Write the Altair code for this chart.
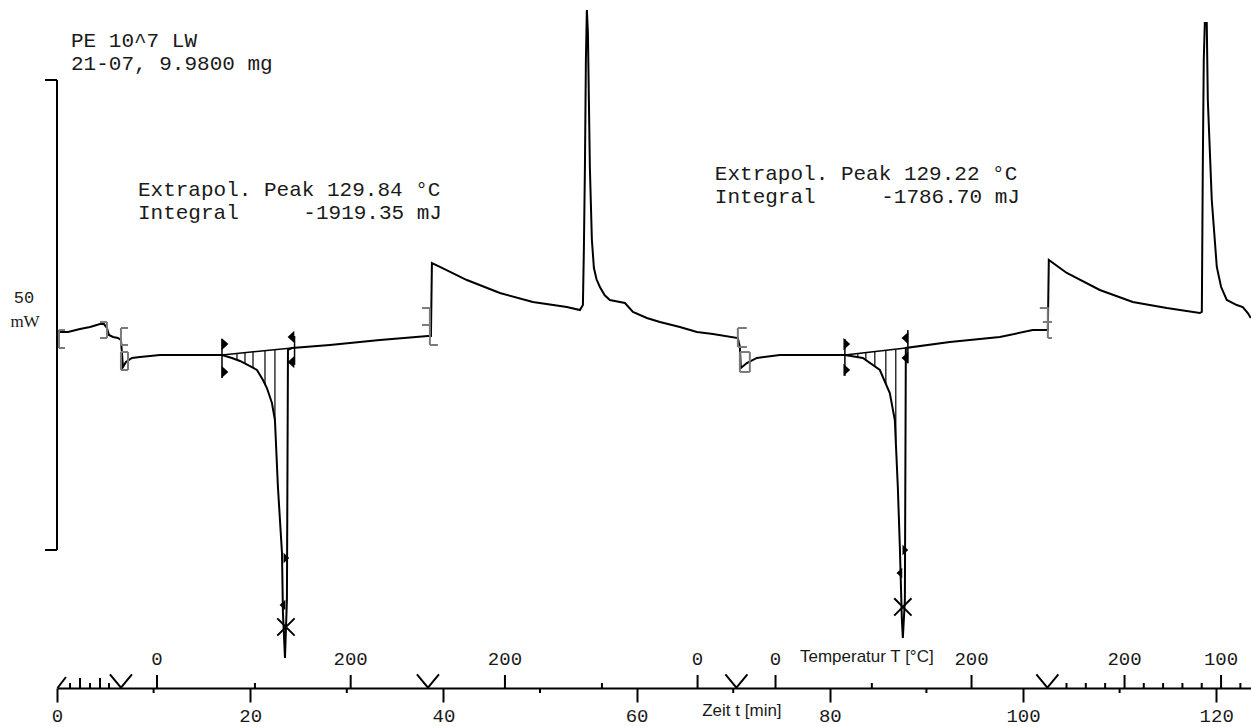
import altair as alt
import pandas as pd

# ---------------- data (time in min, heat flow in mW; scale bar 0..50 mW) ----------------
time_min = [0.00, 0.31, 1.14, 2.38, 3.42, 4.45, 4.86, 5.17, 5.38, 5.80, 6.31, 6.62, 6.83, 7.14, 7.76,
            8.59, 10.66, 13.77, 17.08, 18.11, 18.94, 19.98, 20.70, 21.32, 21.73, 22.25, 22.56, 22.87,
            23.29, 23.39, 23.60, 23.80, 23.91, 24.32, 28.25, 33.43, 38.40, 38.71, 38.81, 39.64, 42.43,
            45.85, 49.26, 52.78, 54.13, 54.44, 54.54, 54.65, 54.75, 54.85, 54.96, 55.06, 55.16, 55.37,
            55.58, 55.85, 56.20, 56.70, 57.23, 58.27, 58.79, 59.62, 61.06, 62.41, 64.48, 66.24, 67.90,
            70.48, 70.69, 70.79, 71.41, 72.45, 74.83, 81.56, 83.42, 85.18, 86.21, 86.73, 87.04, 87.25,
            87.46, 87.56, 87.77, 87.87, 92.42, 97.60, 101.01, 102.57, 102.67, 104.53, 107.95, 111.36,
            114.88, 118.30, 118.51, 118.61, 118.71, 118.82, 119.02, 119.13, 119.54, 120.06, 120.50,
            121.09, 122.13, 122.75, 123.27, 123.58]
heat_flow_mw = [23.40, 23.19, 23.19, 23.51, 23.72, 24.04, 24.04, 23.62, 22.87, 22.66, 22.55, 22.34,
                19.47, 20.00, 20.43, 20.53, 20.74, 20.74, 20.74, 20.43, 20.11, 19.57, 19.15, 18.09,
                17.23, 15.64, 13.83, 6.70, -0.32, -6.70, -11.49, -5.32, 21.28, 21.49, 21.81, 22.34,
                22.77, 22.77, 30.53, 30.11, 28.72, 27.34, 26.38, 25.85, 25.53, 26.06, 31.91, 40.74,
                52.13, 57.45, 55.00, 47.87, 40.74, 32.98, 30.00, 28.80, 27.98, 27.10, 26.60, 26.38,
                26.28, 25.32, 24.68, 24.26, 23.72, 23.19, 22.98, 22.55, 21.60, 19.36, 19.89, 20.43,
                20.74, 20.74, 20.43, 19.15, 16.70, 13.83, 6.70, 0.32, -7.45, -9.36, -5.32, 21.49,
                22.13, 22.66, 23.40, 23.40, 30.85, 29.47, 27.66, 26.38, 25.74, 25.21, 25.32, 40.74,
                52.13, 56.06, 56.06, 47.87, 37.23, 30.11, 28.00, 26.60, 26.06, 25.85, 25.21, 24.68]

# integration baselines
base_t1 = [17.08, 81.56]
base_v1 = [20.74, 20.74]
base_t2 = [24.32, 87.87]
base_v2 = [21.49, 21.49]

# hatching of the integrated areas
hatch_t = [18.63, 19.46, 20.29, 21.53, 22.56, 82.90, 83.73, 84.66, 85.80, 86.83]
hatch_top = [20.96, 21.02, 21.12, 21.22, 21.33, 20.87, 20.96, 21.06, 21.17, 21.28]
hatch_bottom = [20.23, 19.84, 19.39, 17.66, 13.83, 20.52, 20.20, 19.53, 17.67, 11.50]

# evaluation limit markers
tri_right_t = [17.39, 17.39, 81.76, 81.76]
tri_right_v = [21.91, 18.94, 21.91, 19.15]
tri_left_t = [24.22, 24.22, 87.77, 87.77]
tri_left_v = [22.66, 20.00, 22.55, 20.43]
limit_line_t = [17.08, 24.59, 81.56, 88.08]
limit_line_v1 = [22.45, 22.77, 22.45, 23.40]
limit_line_v2 = [18.30, 19.70, 18.50, 19.90]
small_right_t = [23.75, 87.82]
small_right_v = [-0.85, 0.00]
small_left_t = [23.34, 87.20]
small_left_v = [-5.85, -2.45]
peak_x_t = [23.70, 87.56]
peak_x_v = [-8.19, -6.06]

# grey step-evaluation brackets (segments)
br_t1 = [0.21, 0.21, 0.21, 5.17, 4.45, 4.45, 6.62, 6.62, 6.62, 6.62, 6.62, 6.62, 7.35,
         38.60, 37.78, 37.78, 38.60, 70.48, 70.48, 70.48, 70.69, 70.69, 70.69, 71.72,
         102.57, 101.74, 102.05, 102.57]
br_v1 = [23.40, 21.49, 23.40, 24.26, 24.26, 22.55, 23.62, 23.62, 21.81, 21.06, 21.06, 19.15, 21.06,
         25.74, 25.74, 23.94, 21.81, 23.62, 23.62, 21.60, 21.06, 21.06, 18.94, 21.06,
         25.85, 25.74, 24.26, 22.55]
br_t2 = [0.21, 0.83, 0.83, 5.17, 5.17, 5.17, 6.62, 7.35, 7.35, 6.62, 7.35, 7.35, 7.35,
         38.60, 38.60, 38.60, 39.43, 70.48, 71.41, 71.41, 70.69, 71.72, 71.72, 71.72,
         102.57, 102.57, 103.00, 103.00]
br_v2 = [21.49, 21.49, 23.40, 22.55, 24.26, 22.55, 21.81, 23.62, 21.81, 19.15, 21.06, 19.15, 19.15,
         21.81, 25.74, 23.94, 21.81, 21.60, 23.62, 21.60, 18.94, 21.06, 18.94, 18.94,
         22.55, 25.74, 24.26, 22.55]

# scale bar (mW)
bar_low, bar_high = 0.0, 50.0
bar_arm_t = -1.24

# time axis
time_ticks = [0, 20, 40, 60, 80, 100, 120]
time_minor = [10, 30, 50, 70, 90, 110]

# temperature axis (positions in minutes)
temp_major_t = [10.35, 30.40, 46.37, 66.31, 74.38, 94.67, 110.51, 120.50]
temp_major_lbl = ["0", "200", "200", "0", "0", "200", "200", "100"]
temp_minor_t = [20.49, 56.41, 84.35, 104.50, 106.50, 108.50, 112.50, 114.50, 116.50, 118.50,
                122.50, 1.35, 3.42, 5.38]
temp_mid_t = [2.38, 4.45]
segment_end_t = [6.62, 38.40, 70.33, 102.52]

# texts
title_lines = ["PE 10^7 LW", "21-07, 9.9800 mg"]
title_t = [1.45, 1.45]
title_v = [53.50, 51.10]
peak_lines = ["Extrapol. Peak 129.84 °C", "Extrapol. Peak 129.22 °C"]
peak_t = [8.38, 68.10]
peak_v = [37.65, 39.35]
integral_label = ["Integral", "Integral"]
integral_v = [35.20, 36.95]
integral_values = ["-1919.35 mJ", "-1786.70 mJ"]
integral_right_t = [39.85, 99.67]

# ---------------- chart ----------------
xs = alt.Scale(domain=[0, 123.6], nice=False, zero=False)
ysc = alt.Scale(domain=[-14.68, 58.51], nice=False, zero=False)
MONO = "Liberation Mono"
INK = "#1a1a1a"

x_axis = alt.Axis(
    values=time_ticks, format="d", title=None, grid=False, labelFlush=False,
    domainColor="black", domainWidth=2, tickColor="black", tickWidth=2, tickSize=14,
    labelFont=MONO, labelFontSize=19, labelColor=INK, labelPadding=4)


def qx(f):
    return alt.X(f, type="quantitative", scale=xs, axis=x_axis)


def qy(f):
    return alt.Y(f, type="quantitative", scale=ysc, axis=None)


curve_df = pd.DataFrame({"t": time_min, "v": heat_flow_mw, "i": range(len(time_min))})
curve = alt.Chart(curve_df).mark_line(color="black", strokeWidth=2).encode(
    x=qx("t"), y=qy("v"), order="i:Q")

base_df = pd.DataFrame({"t": base_t1, "v": base_v1, "t2": base_t2, "v2": base_v2})
baselines = alt.Chart(base_df).mark_rule(color="black", strokeWidth=1.5).encode(
    x=qx("t"), y=qy("v"), x2="t2", y2="v2")

hatch_df = pd.DataFrame({"t": hatch_t, "v": hatch_top, "b": hatch_bottom})
hatch = alt.Chart(hatch_df).mark_rule(color="black", strokeWidth=1.2).encode(
    x=qx("t"), y=qy("v"), y2="b")

lim_df = pd.DataFrame({"t": limit_line_t, "v": limit_line_v1, "b": limit_line_v2})
lim = alt.Chart(lim_df).mark_rule(color="black", strokeWidth=1.5).encode(
    x=qx("t"), y=qy("v"), y2="b")

TRI_R = "M-0.55,-1L0.55,0L-0.55,1Z"
TRI_L = "M0.55,-1L-0.55,0L0.55,1Z"
tri_r = alt.Chart(pd.DataFrame({"t": tri_right_t, "v": tri_right_v})).mark_point(
    shape=TRI_R, filled=True, color="black", opacity=1, size=150).encode(x=qx("t"), y=qy("v"))
tri_l = alt.Chart(pd.DataFrame({"t": tri_left_t, "v": tri_left_v})).mark_point(
    shape=TRI_L, filled=True, color="black", opacity=1, size=150).encode(x=qx("t"), y=qy("v"))
sm_r = alt.Chart(pd.DataFrame({"t": small_right_t, "v": small_right_v})).mark_point(
    shape=TRI_R, filled=True, color="black", opacity=1, size=110).encode(x=qx("t"), y=qy("v"))
sm_l = alt.Chart(pd.DataFrame({"t": small_left_t, "v": small_left_v})).mark_point(
    shape=TRI_L, filled=True, color="black", opacity=1, size=110).encode(x=qx("t"), y=qy("v"))
px = alt.Chart(pd.DataFrame({"t": peak_x_t, "v": peak_x_v})).mark_point(
    shape="M-1,-1L1,1M-1,1L1,-1", filled=False, color="black", opacity=1, size=300,
    strokeWidth=2).encode(x=qx("t"), y=qy("v"))

br_df = pd.DataFrame({"t": br_t1, "v": br_v1, "t2": br_t2, "v2": br_v2})
brackets = alt.Chart(br_df).mark_rule(color="#7a7a7a", strokeWidth=2).encode(
    x=qx("t"), y=qy("v"), x2="t2", y2="v2")

bar_df = pd.DataFrame({
    "t": [0, bar_arm_t, bar_arm_t],
    "v": [bar_low, bar_high, bar_low],
    "t2": [0, 0, 0],
    "v2": [bar_high, bar_high, bar_low],
})
bar = alt.Chart(bar_df).mark_rule(color="black", strokeWidth=2).encode(
    x=qx("t"), y=qy("v"), x2="t2", y2="v2")
bar_lbl = alt.Chart(pd.DataFrame({"t": [-3.42], "v": [26.86], "s": ["50"]})).mark_text(
    font=MONO, fontSize=17, color=INK, align="center", baseline="middle").encode(
    x=qx("t"), y=qy("v"), text="s:N")
bar_unit = alt.Chart(pd.DataFrame({"t": [-3.31], "v": [24.26], "s": ["mW"]})).mark_text(
    font="Liberation Serif", fontSize=17, color=INK, align="center", baseline="middle").encode(
    x=qx("t"), y=qy("v"), text="s:N")

# axis decorations (pixel offsets relative to plot bottom = 688)
AX = 688
t_minor = alt.Chart(pd.DataFrame({"t": time_minor})).mark_rule(color="black", strokeWidth=2).encode(
    x=qx("t"), y=alt.value(AX), y2=alt.value(AX + 5))
tp_major = alt.Chart(pd.DataFrame({"t": temp_major_t})).mark_rule(color="black", strokeWidth=2).encode(
    x=qx("t"), y=alt.value(AX), y2=alt.value(AX - 13))
tp_mid = alt.Chart(pd.DataFrame({"t": temp_mid_t})).mark_rule(color="black", strokeWidth=2).encode(
    x=qx("t"), y=alt.value(AX), y2=alt.value(AX - 10))
tp_minor = alt.Chart(pd.DataFrame({"t": temp_minor_t})).mark_rule(color="black", strokeWidth=2).encode(
    x=qx("t"), y=alt.value(AX), y2=alt.value(AX - 5))
slant = alt.Chart(pd.DataFrame({"t": [0.05], "t2": [0.93]})).mark_rule(color="black", strokeWidth=2).encode(
    x=qx("t"), x2="t2", y=alt.value(AX), y2=alt.value(AX - 11))
seg_v = alt.Chart(pd.DataFrame({"t": segment_end_t})).mark_point(
    shape="M-1,-0.6L0,0.6L1,-0.6", filled=False, color="black", opacity=1, size=484,
    strokeWidth=2).encode(x=qx("t"), y=alt.value(AX - 7))
tp_lbl = alt.Chart(pd.DataFrame({"t": temp_major_t, "s": temp_major_lbl})).mark_text(
    font=MONO, fontSize=19, color=INK, align="center", baseline="middle").encode(
    x=qx("t"), y=alt.value(AX - 29), text="s:N")
tp_title = alt.Chart(pd.DataFrame({"t": [83.83], "s": ["Temperatur T [°C]"]})).mark_text(
    font="Liberation Sans", fontSize=17, color=INK, align="center", baseline="middle").encode(
    x=qx("t"), y=alt.value(AX - 31), text="s:N")
time_title = alt.Chart(pd.DataFrame({"t": [70.9], "s": ["Zeit t [min]"]})).mark_text(
    font="Liberation Sans", fontSize=17, color=INK, align="center", baseline="middle").encode(
    x=qx("t"), y=alt.value(AX + 23), text="s:N")

# annotations
title_txt = alt.Chart(pd.DataFrame({"t": title_t, "v": title_v, "s": title_lines})).mark_text(
    font=MONO, fontSize=21, color=INK, align="left", baseline="alphabetic").encode(
    x=qx("t"), y=qy("v"), text="s:N")
peak_txt = alt.Chart(pd.DataFrame({"t": peak_t, "v": peak_v, "s": peak_lines})).mark_text(
    font=MONO, fontSize=21, color=INK, align="left", baseline="alphabetic").encode(
    x=qx("t"), y=qy("v"), text="s:N")
int_lbl = alt.Chart(pd.DataFrame({"t": peak_t, "v": integral_v, "s": integral_label})).mark_text(
    font=MONO, fontSize=21, color=INK, align="left", baseline="alphabetic").encode(
    x=qx("t"), y=qy("v"), text="s:N")
int_val = alt.Chart(pd.DataFrame({"t": integral_right_t, "v": integral_v, "s": integral_values})).mark_text(
    font=MONO, fontSize=21, color=INK, align="right", baseline="alphabetic").encode(
    x=qx("t"), y=qy("v"), text="s:N")

chart = alt.layer(
    curve, baselines, hatch, lim, brackets, tri_r, tri_l, sm_r, sm_l, px,
    bar, bar_lbl, bar_unit,
    t_minor, tp_major, tp_mid, tp_minor, slant, seg_v, tp_lbl, tp_title, time_title,
    title_txt, peak_txt, int_lbl, int_val,
).properties(
    width=1194, height=688,
    autosize=alt.AutoSizeParams(type="none"),
    padding={"left": 57, "top": 0, "right": 0, "bottom": 39},
    background="white",
).configure_view(stroke=None)

chart.save("out.html", embed_options={"renderer": "svg", "actions": False})
